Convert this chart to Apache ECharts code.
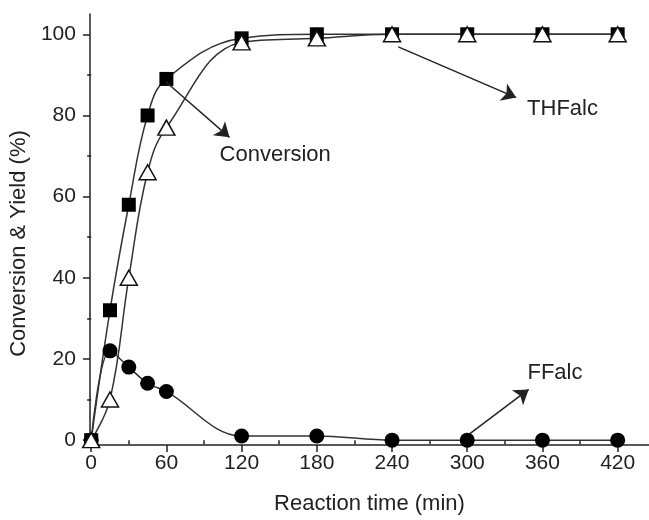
<!DOCTYPE html>
<html>
<head>
<meta charset="utf-8">
<script src="https://cdn.jsdelivr.net/npm/echarts@6/dist/echarts.min.js"></script>
<style>
  html, body { margin: 0; padding: 0; background: #fff; }
  #chart { width: 649px; height: 520px; }
</style>
</head>
<body>
<div id="chart"></div>
<script>
// Temps de réaction (min)
const times = [0, 15, 30, 45, 60, 120, 180, 240, 300, 360, 420];
// Conversion (%)
const conversion = [0, 32, 58, 80, 89, 99, 100, 100, 100, 100, 100];
// Rendement THFalc (%)
const thfalc = [0, 10, 40, 66, 77, 98, 99, 100, 100, 100, 100];
// Rendement FFalc (%)
const ffalc = [0, 22, 18, 14, 12, 1, 1, 0, 0, 0, 0];

// Graduations
const xMajorTicks = [0, 60, 120, 180, 240, 300, 360, 420];
const xMinorTicks = [30, 90, 150, 210, 270, 330, 390];
const yMajorTicks = [0, 20, 40, 60, 80, 100];
const yMinorTicks = [10, 30, 50, 70, 90];

// Annotations : flèches [départ, arrivée] et étiquettes [x, y, texte]
const arrows = [
  [[59.5, 88.3], [110.3, 74.6]],
  [[245, 96.9], [339, 84.4]],
  [[301.6, 1.5], [349, 12.5]]
];
const labels = [
  [146.8, 70.2, 'Conversion'],
  [376, 81.7, 'THFalc'],
  [370, 16.6, 'FFalc']
];

const INK = '#222';
const FONT = '"Liberation Sans", Arial, sans-serif';

const pairs = (ys) => times.map((t, i) => [t, ys[i]]);

const chart = echarts.init(document.getElementById('chart'));

const xBase = {
  type: 'value', min: -1, max: 445, gridIndex: 0, position: 'bottom',
  splitLine: { show: false }
};
const yBase = {
  type: 'value', min: -1.2, max: 105, gridIndex: 0, position: 'left',
  splitLine: { show: false }
};

const option = {
  animation: false,
  backgroundColor: '#fff',
  grid: { left: 87, right: 0, top: 14, bottom: 72, containLabel: false },
  xAxis: [
    Object.assign({}, xBase, {
      name: 'Reaction time (min)',
      nameLocation: 'middle',
      nameGap: 48,
      nameTextStyle: { fontFamily: FONT, fontSize: 22, color: INK },
      axisLine: { show: true, onZero: false, lineStyle: { color: INK, width: 1.5 } },
      axisTick: { show: true, customValues: xMajorTicks, length: 7, lineStyle: { color: INK, width: 1.5 } },
      axisLabel: { customValues: xMajorTicks, fontFamily: FONT, fontSize: 21, color: INK, margin: 8 }
    }),
    Object.assign({}, xBase, {
      axisLine: { show: false },
      axisTick: { show: true, customValues: xMinorTicks, length: 4, lineStyle: { color: INK, width: 1.5 } },
      axisLabel: { show: false }
    })
  ],
  yAxis: [
    Object.assign({}, yBase, {
      name: 'Conversion & Yield (%)',
      nameLocation: 'middle',
      nameGap: 50,
      nameTextStyle: { fontFamily: FONT, fontSize: 22, color: INK, padding: [0, 28, 0, 0] },
      axisLine: { show: true, onZero: false, lineStyle: { color: INK, width: 1.5 } },
      axisTick: { show: true, customValues: yMajorTicks, length: 7, lineStyle: { color: INK, width: 1.5 } },
      axisLabel: { customValues: yMajorTicks, fontFamily: FONT, fontSize: 21, color: INK, margin: 14 }
    }),
    Object.assign({}, yBase, {
      axisLine: { show: false },
      axisTick: { show: true, customValues: yMinorTicks, length: 4, lineStyle: { color: INK, width: 1.5 } },
      axisLabel: { show: false }
    })
  ],
  series: [
    {
      name: 'FFalc',
      type: 'line',
      data: pairs(ffalc),
      smooth: 0.35,
      symbol: 'circle',
      symbolSize: 15,
      itemStyle: { color: '#000' },
      lineStyle: { color: '#333', width: 1.5 }
    },
    {
      name: 'Conversion',
      type: 'line',
      data: pairs(conversion),
      smooth: 0.4,
      symbol: 'rect',
      symbolSize: 14,
      itemStyle: { color: '#000' },
      lineStyle: { color: '#333', width: 1.5 }
    },
    {
      name: 'THFalc',
      type: 'line',
      data: pairs(thfalc),
      smooth: 0.4,
      symbol: 'triangle',
      symbolSize: [17, 15],
      itemStyle: { color: '#fff', borderColor: '#111', borderWidth: 1.5 },
      lineStyle: { color: '#333', width: 1.5 }
    },
    {
      name: 'annotations',
      type: 'line',
      data: [],
      silent: true,
      itemStyle: { color: INK },
      markLine: {
        silent: true,
        symbol: ['none', 'arrow'],
        symbolSize: 14,
        label: { show: false },
        itemStyle: { color: INK },
        lineStyle: { color: INK, width: 1.5, type: 'solid' },
        data: arrows.map(([a, b]) => [{ coord: a }, { coord: b }])
      },
      markPoint: {
        silent: true,
        symbol: 'circle',
        symbolSize: 1,
        itemStyle: { color: 'rgba(0,0,0,0)' },
        label: { show: true, position: 'inside', fontFamily: FONT, fontSize: 22, color: INK },
        data: labels.map(([x, y, txt]) => ({ coord: [x, y], value: txt, label: { formatter: txt } }))
      }
    }
  ]
};

chart.setOption(option);
</script>
</body>
</html>
